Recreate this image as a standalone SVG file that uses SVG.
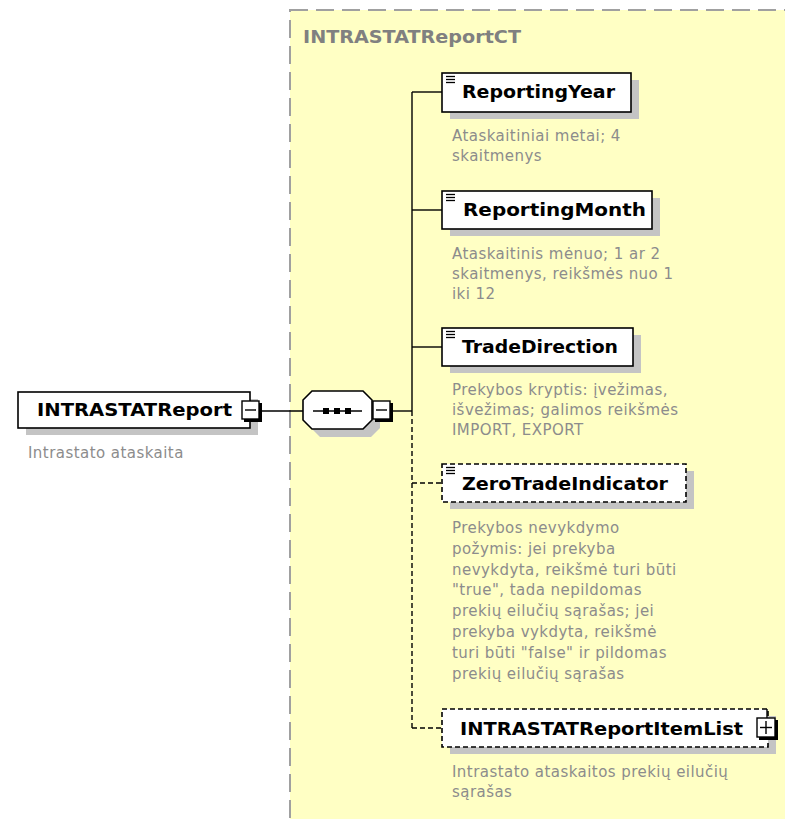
<svg xmlns="http://www.w3.org/2000/svg" width="785" height="819" viewBox="0 0 785 819">
<defs>
<style>
.bg{fill:#ffffff}
.ct{fill:#ffffc4;stroke:#a0a0a0;stroke-width:2;stroke-dasharray:18 8}
.ctt{font-family:"DejaVu Sans",sans-serif;font-weight:bold;font-size:17px;fill:#808080}
.box{fill:#ffffff;stroke:#000000;stroke-width:1.6}
.dbox{fill:#ffffff;stroke:#000000;stroke-width:1.6;stroke-dasharray:5 3}
.sh{fill:#c4c4c4}
.nm{font-family:"DejaVu Sans",sans-serif;font-weight:bold;font-size:17px;fill:#000000}
.ds{font-family:"DejaVu Sans",sans-serif;font-size:15px;fill:#8c8c8c;letter-spacing:0.45px}
.ln{stroke:#000000;stroke-width:1.4;fill:none}
.dl{stroke:#000000;stroke-width:1.4;fill:none;stroke-dasharray:5 3}
.ic{stroke:#000000;stroke-width:1.3}
.btn{fill:#ffffff;stroke:#000000;stroke-width:1.4}
.bsh{fill:#000000}
</style>
</defs>
<rect class="bg" x="0" y="0" width="785" height="819"/>
<g id="complexType">
<rect class="ct" x="290" y="10" width="510" height="830"/>
<text class="ctt" x="303" y="43" textLength="218" lengthAdjust="spacingAndGlyphs">INTRASTATReportCT</text>
</g>
<g id="connectors">
<line class="ln" x1="262" y1="411" x2="303" y2="411"/>
<line class="ln" x1="393" y1="411" x2="412" y2="411"/>
<line class="ln" x1="412" y1="92" x2="412" y2="411"/>
<line class="ln" x1="412" y1="92" x2="442" y2="92"/>
<line class="ln" x1="412" y1="210" x2="442" y2="210"/>
<line class="ln" x1="412" y1="347" x2="442" y2="347"/>
<line class="dl" x1="412" y1="411" x2="412" y2="728"/>
<line class="dl" x1="412" y1="483" x2="442" y2="483"/>
<line class="dl" x1="412" y1="728" x2="442" y2="728"/>
</g>
<g id="INTRASTATReport">
<rect class="sh" x="26" y="399" width="232" height="36"/>
<rect class="box" x="18" y="392" width="232" height="36"/>
<text class="nm" x="37" y="416" textLength="195" lengthAdjust="spacingAndGlyphs">INTRASTATReport</text>
<rect class="bsh" x="244" y="403" width="18" height="19"/>
<rect class="btn" x="242" y="401" width="17" height="18"/>
<line class="ln" x1="245" y1="410" x2="256" y2="410"/>
<text class="ds" x="28" y="458">Intrastato ataskaita</text>
</g>
<g id="sequence">
<polygon class="sh" points="320,399 371,399 380,408 380,428 371,437 320,437 311,428 311,408"/>
<polygon class="box" points="312,391 363,391 372,400 372,420 363,429 312,429 303,420 303,400"/>
<line class="ln" x1="313" y1="411" x2="362" y2="411"/>
<rect class="bsh" x="323" y="408" width="6" height="6"/>
<rect class="bsh" x="334" y="408" width="6" height="6"/>
<rect class="bsh" x="345" y="408" width="6" height="6"/>
<rect class="bsh" x="375" y="403" width="18" height="19"/>
<rect class="btn" x="373" y="401" width="17" height="18"/>
<line class="ln" x1="376" y1="410" x2="387" y2="410"/>
</g>
<g id="ReportingYear">
<rect class="sh" x="450" y="80" width="189" height="39"/>
<rect class="box" x="442" y="73" width="189" height="39"/>
<line class="ic" x1="446" y1="76.5" x2="455" y2="76.5"/>
<line class="ic" x1="446" y1="79.5" x2="455" y2="79.5"/>
<line class="ic" x1="446" y1="82.5" x2="455" y2="82.5"/>
<text class="nm" x="462" y="98" textLength="153" lengthAdjust="spacingAndGlyphs">ReportingYear</text>
<text class="ds" x="452" y="141">Ataskaitiniai metai; 4</text>
<text class="ds" x="452" y="161">skaitmenys</text>
</g>
<g id="ReportingMonth">
<rect class="sh" x="450" y="198" width="210" height="38"/>
<rect class="box" x="442" y="191" width="210" height="38"/>
<line class="ic" x1="446" y1="194.5" x2="455" y2="194.5"/>
<line class="ic" x1="446" y1="197.5" x2="455" y2="197.5"/>
<line class="ic" x1="446" y1="200.5" x2="455" y2="200.5"/>
<text class="nm" x="463" y="216" textLength="183" lengthAdjust="spacingAndGlyphs">ReportingMonth</text>
<text class="ds" x="452" y="259">Ataskaitinis mėnuo; 1 ar 2</text>
<text class="ds" x="452" y="279">skaitmenys, reikšmės nuo 1</text>
<text class="ds" x="452" y="299">iki 12</text>
</g>
<g id="TradeDirection">
<rect class="sh" x="450" y="335" width="191" height="38"/>
<rect class="box" x="442" y="328" width="191" height="38"/>
<line class="ic" x1="446" y1="331.5" x2="455" y2="331.5"/>
<line class="ic" x1="446" y1="334.5" x2="455" y2="334.5"/>
<line class="ic" x1="446" y1="337.5" x2="455" y2="337.5"/>
<text class="nm" x="462" y="353" textLength="156" lengthAdjust="spacingAndGlyphs">TradeDirection</text>
<text class="ds" x="452" y="395">Prekybos kryptis: įvežimas,</text>
<text class="ds" x="452" y="415">išvežimas; galimos reikšmės</text>
<text class="ds" x="452" y="435">IMPORT, EXPORT</text>
</g>
<g id="ZeroTradeIndicator">
<rect class="sh" x="450" y="471" width="244" height="38"/>
<rect class="dbox" x="442" y="464" width="244" height="38"/>
<line class="ic" x1="446" y1="467.5" x2="455" y2="467.5"/>
<line class="ic" x1="446" y1="470.5" x2="455" y2="470.5"/>
<line class="ic" x1="446" y1="473.5" x2="455" y2="473.5"/>
<text class="nm" x="462" y="490" textLength="206" lengthAdjust="spacingAndGlyphs">ZeroTradeIndicator</text>
<text class="ds" x="452" y="533">Prekybos nevykdymo</text>
<text class="ds" x="452" y="554">požymis: jei prekyba</text>
<text class="ds" x="452" y="575">nevykdyta, reikšmė turi būti</text>
<text class="ds" x="452" y="595">"true", tada nepildomas</text>
<text class="ds" x="452" y="616">prekių eilučių sąrašas; jei</text>
<text class="ds" x="452" y="637">prekyba vykdyta, reikšmė</text>
<text class="ds" x="452" y="658">turi būti "false" ir pildomas</text>
<text class="ds" x="452" y="679">prekių eilučių sąrašas</text>
</g>
<g id="INTRASTATReportItemList">
<rect class="sh" x="450" y="716" width="326" height="38"/>
<rect class="dbox" x="442" y="709" width="326" height="38"/>
<text class="nm" x="460" y="735" textLength="283" lengthAdjust="spacingAndGlyphs">INTRASTATReportItemList</text>
<line class="ln" x1="767" y1="709" x2="767" y2="718"/>
<rect class="bsh" x="759" y="720" width="19" height="20"/>
<rect class="btn" x="757" y="718" width="18" height="19"/>
<line class="ln" x1="760" y1="727.5" x2="772" y2="727.5"/>
<line class="ln" x1="766" y1="721" x2="766" y2="734"/>
<text class="ds" x="452" y="777">Intrastato ataskaitos prekių eilučių</text>
<text class="ds" x="452" y="797">sąrašas</text>
</g>
</svg>
